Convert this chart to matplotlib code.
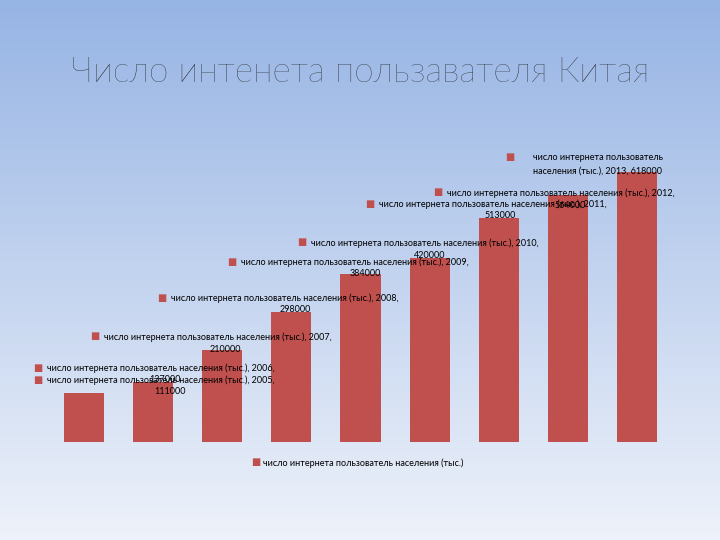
import numpy as np
import matplotlib
matplotlib.use("Agg")
from matplotlib import pyplot as plt

years = [2005, 2006, 2007, 2008, 2009, 2010, 2011, 2012, 2013]
users = [111000, 137000, 210000, 298000, 384000, 420000, 513000, 564000, 618000]
series_name = "число интернета пользователь населения (тыс.)"
title = "Число интенета пользавателя Китая"

bar_color = "#c0504d"
plt.rcParams['font.family'] = ['Lato', 'DejaVu Sans']

fig = plt.figure(figsize=(7.2, 5.4), dpi=100)

# background gradient
bg = fig.add_axes([0, 0, 1, 1], zorder=-1)
top = np.array([150, 180, 228]) / 255
bot = np.array([238, 242, 250]) / 255
t = np.linspace(0, 1, 256)[:, None]
grad = top * (1 - t) + bot * t
bg.imshow(grad[:, None, :], aspect="auto", extent=[0, 1, 0, 1])
bg.axis("off")

fig.text(0.5, 1 - 72 / 540, title, ha="center", va="center", fontsize=25.5,
         color="#222222", fontweight="light")

ax = fig.add_axes([49 / 720, 1 - 442 / 540, (672 - 49) / 720, (442 - 150) / 540])
ax.patch.set_alpha(0)
x = np.arange(len(years))
ax.bar(x, users, width=0.58, color=bar_color)
ax.set_xlim(-0.5, 8.5)
ax.set_ylim(0, 668000)
ax.axis("off")

# label positions in pixels: (marker x, marker y, value x, value y)
label_pos = [(38, 380, 170, 391), (38, 368, 165, 380), (95, 337, 225, 349),
             (162, 298, 295, 310), (232, 262, 365, 273), (302, 243, 430, 256),
             (370, 204, 500, 216), (438, 193, 570, 205)]
fs = 6.5
for (mx, my, vx, vy), yr, v in zip(label_pos, years, users):
    fig.text(mx / 720, 1 - my / 540, "■", color=bar_color, fontsize=7, ha="center", va="center")
    fig.text((mx + 9) / 720, 1 - my / 540, f"{series_name}, {yr},", fontsize=fs, va="center")
    fig.text(vx / 720, 1 - vy / 540, str(v), fontsize=fs, ha="center", va="center")

fig.text(510 / 720, 1 - 158 / 540, "■", color=bar_color, fontsize=7, ha="center", va="center")
fig.text(533 / 720, 1 - 158 / 540, "число интернета пользователь", fontsize=fs, va="center")
fig.text(533 / 720, 1 - 171 / 540, f"населения (тыс.), {years[-1]}, {users[-1]}", fontsize=fs, va="center")

fig.text(256 / 720, 1 - 463 / 540, "■", color=bar_color, fontsize=7, ha="center", va="center")
fig.text(263 / 720, 1 - 463 / 540, series_name, fontsize=fs, va="center")

fig.savefig("out.png", dpi=100)
